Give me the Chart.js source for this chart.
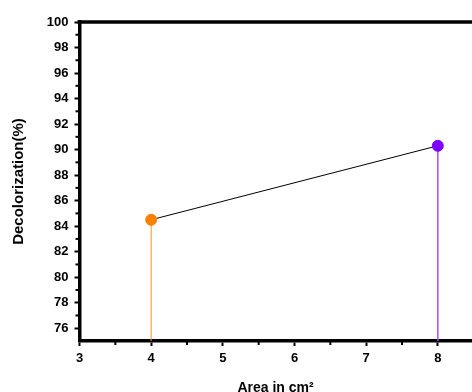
<!DOCTYPE html>
<html>
<head>
<meta charset="utf-8">
<script src="https://cdn.jsdelivr.net/npm/chart.js@4"></script>
<style>
  html, body { margin: 0; padding: 0; background: #fff; overflow: hidden; }
  #wrap { width: 478px; height: 392px; }
</style>
</head>
<body>
<div id="wrap"><canvas id="myChart"></canvas></div>
<script>
// values
const areas = [4, 8];
const decolor = [84.5, 90.3];
const pointColors = ['#FF8000', '#8000FF'];
const dropColors = ['#F7931E', '#A64DFF'];
const xTicks = [3, 4, 5, 6, 7, 8];
const yTicks = [76, 78, 80, 82, 84, 86, 88, 90, 92, 94, 96, 98, 100];

const font = 'Liberation Sans, Arial, sans-serif';

// thick top border + little minor ticks
const frame = {
  id: 'frame',
  afterDraw(chart) {
    const {ctx, chartArea, scales} = chart;
    ctx.save();
    ctx.strokeStyle = '#000';
    ctx.lineWidth = 3.5;
    ctx.beginPath();
    ctx.moveTo(chartArea.left - 2, chartArea.top);
    ctx.lineTo(chartArea.right + 2, chartArea.top);
    ctx.stroke();
    ctx.lineWidth = 2;
    for (let v = 3.5; v < 8.5; v++) {
      const px = scales.x.getPixelForValue(v);
      ctx.beginPath();
      ctx.moveTo(px, chartArea.bottom);
      ctx.lineTo(px, chartArea.bottom + 4);
      ctx.stroke();
    }
    for (let v = 77; v < 100; v += 2) {
      const py = scales.y.getPixelForValue(v);
      ctx.beginPath();
      ctx.moveTo(chartArea.left, py);
      ctx.lineTo(chartArea.left - 4, py);
      ctx.stroke();
    }
    ctx.restore();
  }
};

const datasets = [];
// drop lines
areas.forEach((a, i) => {
  datasets.push({
    data: [{x: a, y: 75}, {x: a, y: decolor[i]}],
    showLine: true,
    borderColor: dropColors[i],
    borderWidth: i === 0 ? 1 : 1.5,
    pointRadius: 0,
    order: 3
  });
});
// connecting line
datasets.push({
  data: areas.map((a, i) => ({x: a, y: decolor[i]})),
  showLine: true,
  borderColor: '#000',
  borderWidth: 1,
  pointRadius: 0,
  order: 2
});
// markers
datasets.push({
  data: areas.map((a, i) => ({x: a, y: decolor[i]})),
  backgroundColor: pointColors,
  borderColor: pointColors,
  pointRadius: 5.5,
  pointHoverRadius: 5.5,
  order: 1
});

const cfg = {
  type: 'scatter',
  data: { datasets },
  options: {
    responsive: true,
    maintainAspectRatio: false,
    animation: false,
    layout: { padding: { top: 22, right: 0, left: 0, bottom: 0 } },
    plugins: { legend: { display: false }, tooltip: { enabled: false } },
    scales: {
      x: {
        type: 'linear',
        min: 3,
        max: 8.47,
        afterBuildTicks: s => { s.ticks = xTicks.map(v => ({value: v})); },
        afterFit: s => { s.height = 51; },
        border: { color: '#000', width: 3.5 },
        grid: { drawOnChartArea: false, tickLength: 5, tickWidth: 2, tickColor: '#000' },
        ticks: { color: '#000', padding: 5, font: { family: font, size: 13, weight: 'bold' } },
        title: {
          display: true,
          text: 'Area in cm\u00B2',
          color: '#000',
          font: { family: font, size: 14, weight: 'bold' },
          padding: { top: 0, bottom: -5 }
        }
      },
      y: {
        min: 75,
        max: 100,
        afterBuildTicks: s => { s.ticks = yTicks.map(v => ({value: v})); },
        afterFit: s => { s.width = 79.5; },
        border: { color: '#000', width: 3.5 },
        grid: { drawOnChartArea: false, tickLength: 5, tickWidth: 2, tickColor: '#000' },
        ticks: { color: '#000', padding: 6, font: { family: font, size: 13, weight: 'bold' } },
        title: {
          display: true,
          text: 'Decolorization(%)',
          color: '#000',
          font: { family: font, size: 15, weight: 'bold' },
          padding: { top: 10, bottom: 0 }
        }
      }
    }
  },
  plugins: [frame]
};

const ctx = document.getElementById('myChart');
new Chart(ctx, cfg);
</script>
</body>
</html>
